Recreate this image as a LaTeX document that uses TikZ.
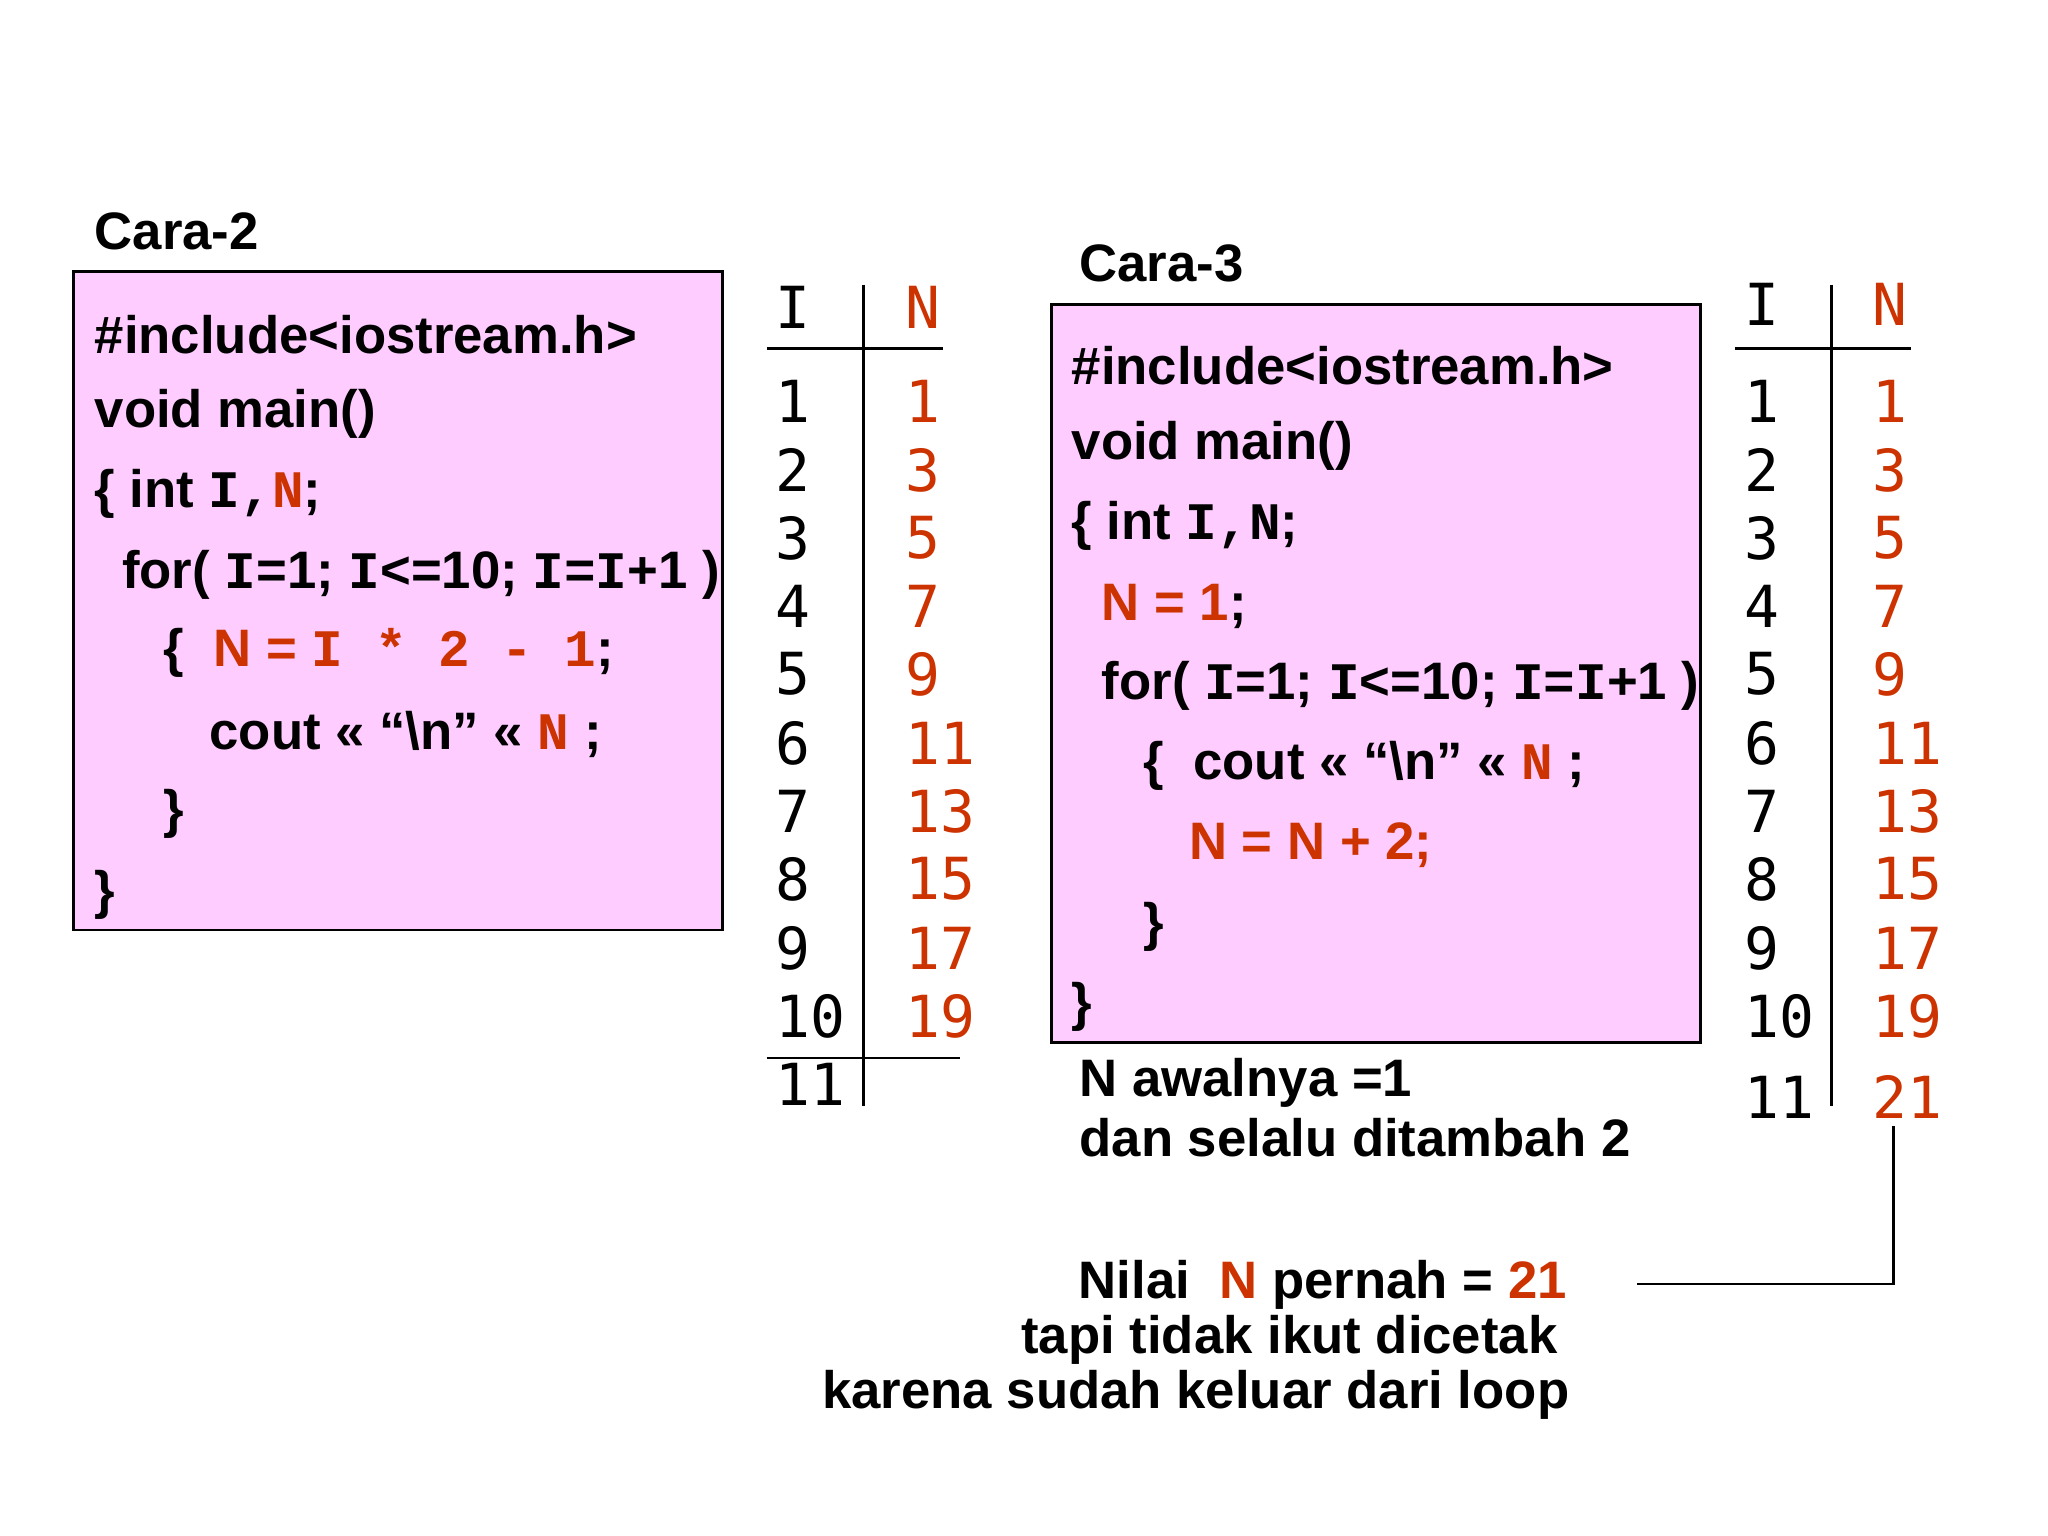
\documentclass[tikz,border=0pt]{standalone}
\usepackage{fontspec}
\setmainfont{Liberation Sans}
\newfontfamily\cmono{Liberation Mono}
\newfontfamily\dmono{DejaVu Sans Mono}
\definecolor{rd}{HTML}{CC3300}
\definecolor{pk}{HTML}{FFCCFF}
\newcommand{\cm}[1]{{\cmono\bfseries #1}}
\begin{document}
\begin{tikzpicture}[x=0.013061cm,y=-0.013061cm,
  t/.style={anchor=west,inner sep=0pt,font=\fontsize{15}{18}\selectfont\bfseries},
  n/.style={anchor=west,inner sep=0pt,font=\fontsize{16.5}{19}\selectfont\dmono},
  r/.style={text=rd},
  box/.style={draw=black,fill=pk,line width=0.8pt},
  ln/.style={line width=0.8pt}]
\useasboundingbox (0,0) rectangle (1568,1176);
% Cara-2
\node[t] (h2) at (72,177) {Cara-2};
\draw[box] (56,208) rectangle (553,712);
\node[t] (a1) at (72,256) {\#include<iostream.h>};
\node[t] (a2) at (72,317) {void main()};
\node[t] (a3) at (72,378) {\{ int \cm{I,}\textcolor{rd}{\cm{N}};};
\node[t] (a4) at (93,440) {for( \cm{I}=1; \cm{I}<=10; \cm{I=I}+1 )};
\node[t] (a5) at (125,500) {\{ \ \textcolor{rd}{N = \cm{I * 2 - 1}};};
\node[t] (a6) at (160,562) {cout << “\textbackslash n” << \textcolor{rd}{\cm{N}} ;};
\node[t] (a7) at (125,623) {\}};
\node[t] (a8) at (72,685) {\}};
% table 1
\node[n] (t1i) at (593,235) {I};
\node[n,r] (t1n) at (693,235) {N};
\coordinate (v1a) at (661,218); \coordinate (v1b) at (661,847);
\draw[ln] (v1a) -- (v1b);
\coordinate (h1a) at (587,267); \coordinate (h1b) at (722,267);
\draw[ln] (h1a) -- (h1b);
\coordinate (h1c) at (587,810); \coordinate (h1d) at (735,810);
\draw[ln] (h1c) -- (h1d);
\foreach \i/\v/\y in {1/1/307,2/3/360,3/5/412,4/7/464,5/9/516,6/11/569,7/13/621,8/15/673,9/17/726,10/19/778}{
  \node[n] (l\i) at (593,\y) {\i};
  \node[n,r] (r\i) at (693,\y) {\v};
  \node[n] (m\i) at (1335,\y) {\i};
  \node[n,r] (s\i) at (1433,\y) {\v};
}
\node[n] (l11) at (593,830) {11};
% Cara-3
\node[t] (h3) at (826,202) {Cara-3};
\draw[box] (805,233) rectangle (1302,798);
\node[t] (b1) at (820,280) {\#include<iostream.h>};
\node[t] (b2) at (820,341) {void main()};
\node[t] (b3) at (820,403) {\{ int \cm{I,N};};
\node[t,r] (b4) at (843,464) {N = 1\textcolor{black}{;}};
\node[t] (b5) at (843,525) {for( \cm{I}=1; \cm{I}<=10; \cm{I=I}+1 )};
\node[t] (b6) at (875,586) {\{ \ cout << “\textbackslash n” << \textcolor{rd}{\cm{N}} ;};
\node[t,r] (b7) at (910,647) {N = N + 2;};
\node[t] (b8) at (875,710) {\}};
\node[t] (b9) at (820,771) {\}};
% table 2
\node[n] (t2i) at (1335,233) {I};
\node[n,r] (t2n) at (1433,233) {N};
\coordinate (v2a) at (1402,218); \coordinate (v2b) at (1402,847);
\draw[ln] (v2a) -- (v2b);
\coordinate (h2a) at (1328,267); \coordinate (h2b) at (1463,267);
\draw[ln] (h2a) -- (h2b);
\node[n] (m11) at (1335,840) {11};
\node[n,r] (s11) at (1433,840) {21};
% notes
\node[t] (na) at (826,829) {N awalnya =1};
\node[t] (nb) at (826,871) {dan selalu ditambah 2};
\node[t,anchor=east] (c1) at (1200,984) {Nilai \ \textcolor{rd}{N} pernah = \textcolor{rd}{21}};
\node[t,anchor=east] (c2) at (1193,1026) {tapi tidak ikut dicetak};
\node[t,anchor=east] (c3) at (1202,1068) {karena sudah keluar dari loop};
\coordinate (k1) at (1450,862); \coordinate (k2) at (1450,983); \coordinate (k3) at (1253,983);
\draw[ln] (k1) -- (k2) -- (k3);
\end{tikzpicture}
\end{document}
